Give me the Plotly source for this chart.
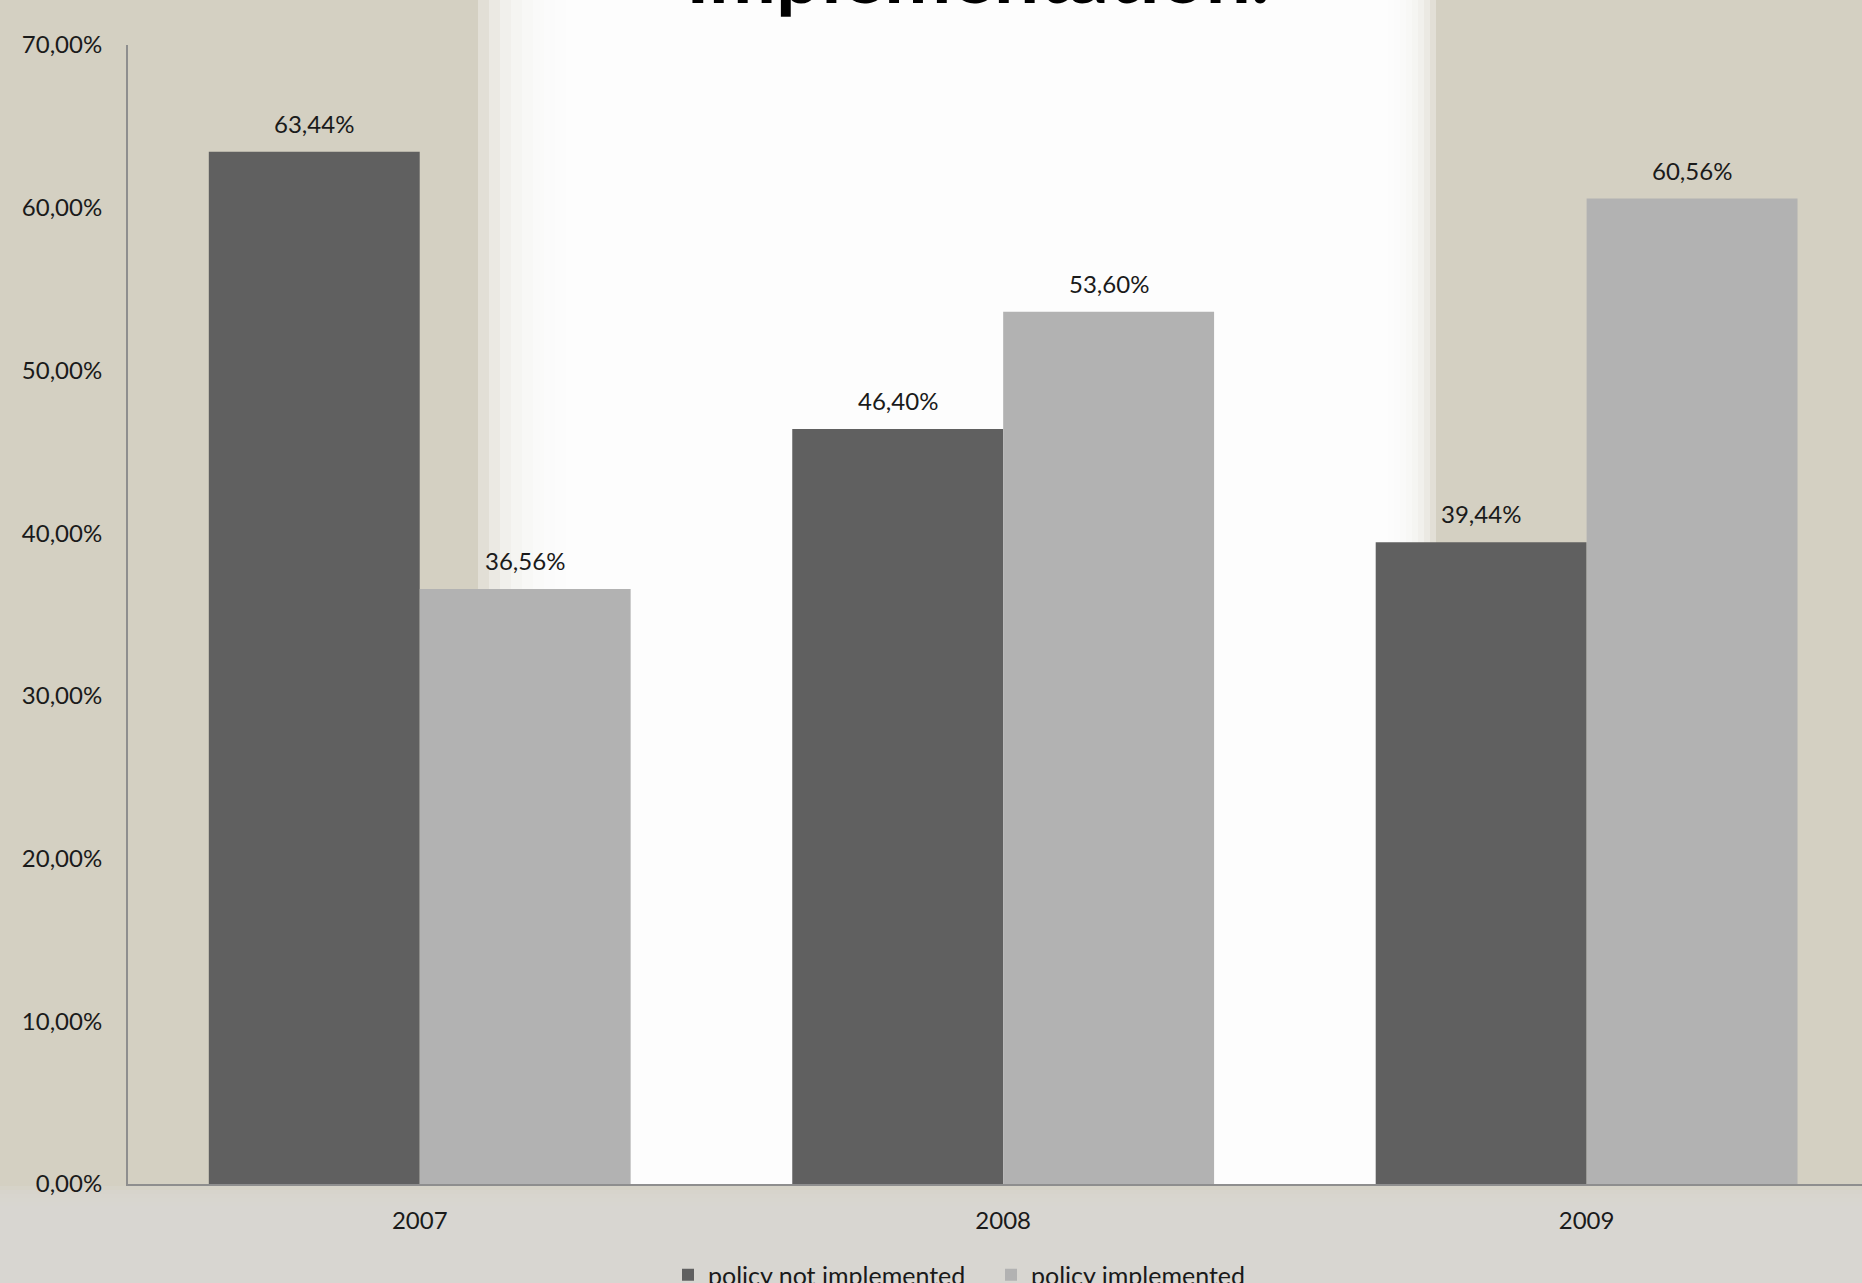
import plotly.graph_objects as go

years = ["2007", "2008", "2009"]
not_implemented = [0.6344, 0.4640, 0.3944]
implemented = [0.3656, 0.5360, 0.6056]
series_names = ["policy not implemented", "policy implemented"]
y_ticks = [0.0, 0.1, 0.2, 0.3, 0.4, 0.5, 0.6, 0.7]

W, H = 1862, 1283
L, R, T, B = 128, 0, 45, 99
PW, PH = W - L - R, H - T - B

def px_x(x):
    return (x - L) / PW

def px_y(y):
    return (H - B - y) / PH

FONT = "Lato, 'Open Sans', sans-serif"
DARK = "#606060"
LIGHT = "#b2b2b2"
TXT = "#1a1a1a"

fig = go.Figure()
fig.add_trace(go.Bar(x=years, y=not_implemented, name=series_names[0],
                     marker=dict(color=DARK, line=dict(width=0))))
fig.add_trace(go.Bar(x=years, y=implemented, name=series_names[1],
                     marker=dict(color=LIGHT, line=dict(width=0))))

# value labels above bars
group_w = 0.723
off = group_w / 4
anns = []
for i, (a, b) in enumerate(zip(not_implemented, implemented)):
    for val, dx in ((a, -off), (b, off)):
        anns.append(dict(x=i + dx, y=val, xref="x", yref="y",
                         text=f"{val*100:.2f}%".replace(".", ","),
                         showarrow=False, yanchor="bottom", yshift=12,
                         font=dict(family=FONT, size=24, color=TXT)))

# title, mostly above the visible area (as in the reference)
anns.append(dict(x=px_x(1272), y=px_y(22), xref="paper", yref="paper",
                 text="<b>Implementation.</b>", showarrow=False,
                 xanchor="right", yanchor="bottom",
                 font=dict(family=FONT, size=80, color="#000000")))

# background: beige with soft white centre and lighter bottom band
shapes = [dict(type="rect", xref="paper", yref="paper", layer="below",
               x0=px_x(0), x1=px_x(W), y0=px_y(H), y1=px_y(0),
               fillcolor="#d4d0c2", line=dict(width=0))]
steps = 10
for k in range(steps):
    shapes.append(dict(type="rect", xref="paper", yref="paper", layer="below",
                       x0=px_x(478 + k * 11), x1=px_x(1436 - k * 6),
                       y0=px_y(1186), y1=px_y(0),
                       fillcolor="rgba(255,255,254,0.33)", line=dict(width=0)))
for k in range(6):
    shapes.append(dict(type="rect", xref="paper", yref="paper", layer="below",
                       x0=px_x(0), x1=px_x(W),
                       y0=px_y(H), y1=px_y(1186 + k * 4),
                       fillcolor="rgba(218,216,211,0.4)", line=dict(width=0)))

fig.update_layout(
    width=W, height=H,
    margin=dict(l=L, r=R, t=T, b=B, autoexpand=False),
    paper_bgcolor="#d4d0c2",
    plot_bgcolor="rgba(0,0,0,0)",
    separators=",.",
    barmode="group",
    bargap=1 - group_w,
    bargroupgap=0,
    font=dict(family=FONT, size=24, color=TXT),
    showlegend=True,
    legend=dict(orientation="h", x=px_x(668), xanchor="left",
                y=px_y(1252), yanchor="top",
                font=dict(family=FONT, size=25, color=TXT),
                bgcolor="rgba(0,0,0,0)", entrywidth=278, entrywidthmode="pixels"),
    xaxis=dict(showgrid=False,
               showline=True, linecolor="#8e8e8e", linewidth=2,
               ticks="outside", ticklen=14, tickcolor="rgba(0,0,0,0)",
               tickfont=dict(family=FONT, size=24, color=TXT),
               fixedrange=True),
    yaxis=dict(range=[0, 0.70], tickvals=y_ticks, tickformat=".2%",
               showgrid=False, zeroline=False,
               showline=True, linecolor="#8e8e8e", linewidth=2,
               ticks="outside", ticklen=19, tickcolor="rgba(0,0,0,0)",
               tickfont=dict(family=FONT, size=24, color=TXT)),
    annotations=anns,
    shapes=shapes,
)
fig.update_xaxes(range=[-0.5, 2.472])

fig.write_html("out.html", config={"displayModeBar": False},
               post_script="document.body.style.margin='0';document.body.style.overflow='hidden';")
